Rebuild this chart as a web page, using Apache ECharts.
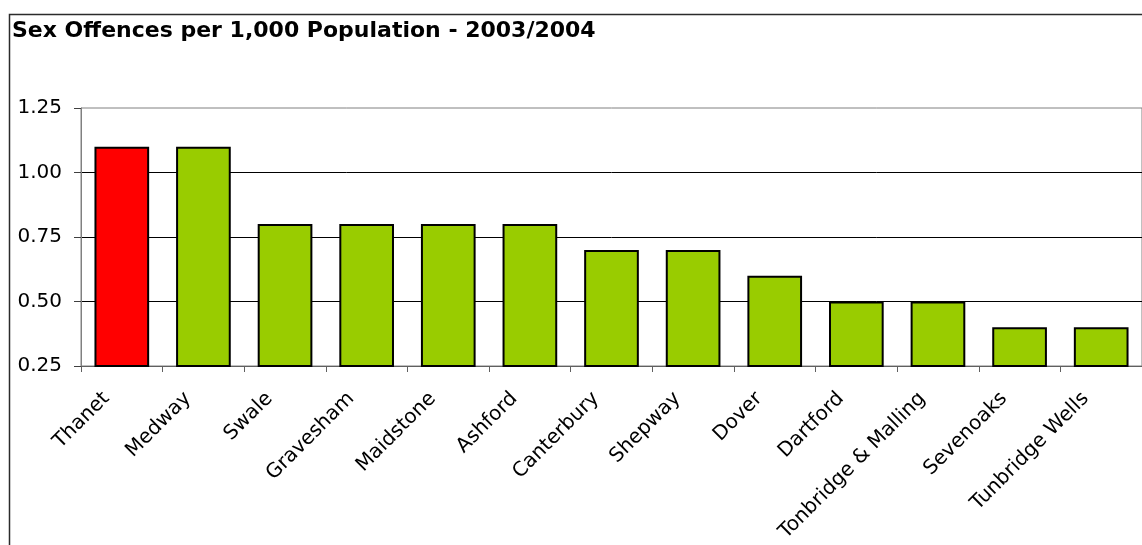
<!DOCTYPE html>
<html>
<head>
<meta charset="utf-8">
<script src="https://cdn.jsdelivr.net/npm/echarts@6/dist/echarts.min.js"></script>
<style>
  html, body { margin: 0; padding: 0; background: #fff; }
  #chart { width: 1142px; height: 545px; }
</style>
</head>
<body>
<div id="chart"></div>
<script>
// Sex offences per 1,000 population by district, 2003/2004
const districts = ['Thanet', 'Medway', 'Swale', 'Gravesham', 'Maidstone', 'Ashford',
  'Canterbury', 'Shepway', 'Dover', 'Dartford', 'Tonbridge & Malling', 'Sevenoaks', 'Tunbridge Wells'];
const offencesPer1000 = [1.1, 1.1, 0.8, 0.8, 0.8, 0.8, 0.7, 0.7, 0.6, 0.5, 0.5, 0.4, 0.4];
const highlighted = ['Thanet'];
const yTicks = [0.25, 0.5, 0.75, 1.0, 1.25];

const FONT = '"DejaVu Sans", Verdana, sans-serif';

const chart = echarts.init(document.getElementById('chart'), null, { renderer: 'canvas' });

chart.setOption({
  animation: false,
  backgroundColor: '#ffffff',
  title: {
    text: 'Sex Offences per 1,000 Population - 2003/2004',
    left: 12,
    top: 20,
    padding: 0,
    textStyle: { fontFamily: FONT, fontWeight: 'bold', fontSize: 22, color: '#000' }
  },
  graphic: [{
    type: 'rect',
    silent: true,
    z: -1,
    shape: { x: 9.5, y: 14.5, width: 1300, height: 700 },
    style: { fill: null, stroke: '#2b2b2b', lineWidth: 1.5 }
  }],
  grid: {
    left: 81, top: 108, right: -8, bottom: 179,
    show: true, borderColor: '#808080', borderWidth: 1, backgroundColor: 'transparent'
  },
  xAxis: {
    type: 'category',
    data: districts,
    axisLine: { lineStyle: { color: '#606060', width: 1 } },
    axisTick: { show: true, length: 6, inside: false, lineStyle: { color: '#606060' } },
    axisLabel: {
      interval: 0,
      rotate: 45,
      margin: 14,
      color: '#000',
      fontFamily: FONT,
      fontSize: 20,
      padding: [0, 22, 0, 0]
    }
  },
  yAxis: {
    type: 'value',
    min: yTicks[0],
    max: yTicks[yTicks.length - 1],
    interval: 0.25,
    axisLine: { show: true, lineStyle: { color: '#808080', width: 1 } },
    axisTick: { show: true, length: 7, lineStyle: { color: '#404040' } },
    axisLabel: {
      margin: 19,
      color: '#000',
      fontFamily: FONT,
      fontSize: 20,
      formatter: v => v.toFixed(2)
    },
    splitLine: { show: true, showMinLine: false, showMaxLine: false, lineStyle: { color: '#000', width: 1 } }
  },
  series: [{
    type: 'bar',
    data: districts.map((d, i) => ({
      value: offencesPer1000[i],
      itemStyle: { color: highlighted.includes(d) ? '#ff0000' : '#99cc00' }
    })),
    barCategoryGap: '33%',
    itemStyle: { borderColor: '#000', borderWidth: 2 }
  }]
});
</script>
</body>
</html>
